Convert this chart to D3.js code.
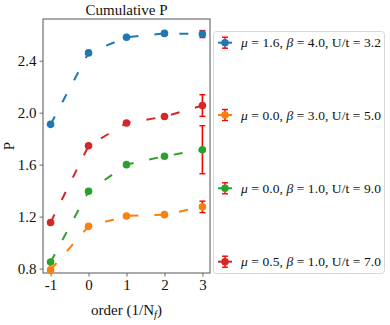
<!DOCTYPE html>
<meta charset="utf-8">
<script src="https://d3js.org/d3.v7.min.js"></script>
<style>
  body { margin: 0; background: #fff; }
  svg text { font-family: "Liberation Serif", "Times New Roman", serif; fill: #111; }
</style>
<div id="my_dataviz"></div>
<script>
  // data
  var orders = [-1, 0, 1, 2, 3];
  var xTicks = [-1, 0, 1, 2, 3];
  var yTicks = [0.8, 1.2, 1.6, 2.0, 2.4];

  var blueP   = [1.91, 2.46, 2.58, 2.61, 2.605];
  var orangeP = [0.79, 1.125, 1.205, 1.215, 1.275];
  var greenP  = [0.85, 1.395, 1.60, 1.665, 1.715];
  var redP    = [1.155, 1.745, 1.92, 1.97, 2.055];
  var lastErr = [0.027, 0.044, 0.185, 0.083];  // blue, orange, green, red at order 3

  var labels = [
    ["1.6", "4.0", "3.2"],
    ["0.0", "3.0", "5.0"],
    ["0.0", "1.0", "9.0"],
    ["0.5", "1.0", "7.0"]
  ];
  var colors = ["#1f77b4", "#ff7f0e", "#2ca02c", "#d62728"];
  var allSeries = [blueP, orangeP, greenP, redP];

  var W = 390, H = 325;
  var margin = {top: 19, left: 43, right: 180, bottom: 52};
  var serif = "'Liberation Serif', 'Times New Roman', serif";

  var svg = d3.select("#my_dataviz").append("svg")
    .attr("width", W).attr("height", H);

  var x = d3.scaleLinear().domain([-1.2, 3.2]).range([margin.left, W - margin.right]);
  var y = d3.scaleLinear().domain([0.766, 2.721]).range([H - margin.bottom, margin.top]);

  // axes
  var gx = svg.append("g")
    .attr("transform", "translate(0," + (H - margin.bottom) + ")")
    .call(d3.axisBottom(x).tickValues(xTicks).tickSize(3.5).tickPadding(3)
      .tickFormat(function(d) { return d < 0 ? "-" + Math.abs(d) : d; }));
  var gy = svg.append("g")
    .attr("transform", "translate(" + margin.left + ",0)")
    .call(d3.axisLeft(y).tickValues(yTicks).tickSize(3.5).tickPadding(3)
      .tickFormat(d3.format(".1f")));
  [gx, gy].forEach(function(g) {
    g.attr("font-family", serif).attr("font-size", 15);
    g.select(".domain").remove();
    g.selectAll("line").attr("stroke", "#444").attr("stroke-width", 0.8);
    g.selectAll("text").attr("fill", "#111");
  });

  // frame
  svg.append("rect")
    .attr("x", margin.left).attr("y", margin.top)
    .attr("width", W - margin.right - margin.left)
    .attr("height", H - margin.bottom - margin.top)
    .attr("fill", "none").attr("stroke", "#555").attr("stroke-width", 1);

  // series
  var line = d3.line()
    .x(function(d, i) { return x(orders[i]); })
    .y(function(d) { return y(d); });

  allSeries.forEach(function(s, k) {
    var g = svg.append("g");
    g.append("path")
      .attr("d", line(s))
      .attr("fill", "none")
      .attr("stroke", colors[k])
      .attr("stroke-width", 2)
      .attr("stroke-dasharray", "9,16");
    // error bar on the last point
    var xe = x(orders[4]), v = s[4], e = lastErr[k];
    g.append("line")
      .attr("x1", xe).attr("x2", xe)
      .attr("y1", y(v - e)).attr("y2", y(v + e))
      .attr("stroke", "#ff0000").attr("stroke-width", 1.6);
    [v - e, v + e].forEach(function(c) {
      g.append("line")
        .attr("x1", xe - 3).attr("x2", xe + 3)
        .attr("y1", y(c)).attr("y2", y(c))
        .attr("stroke", "#ff0000").attr("stroke-width", 1.4);
    });
    g.selectAll("circle").data(s).enter().append("circle")
      .attr("cx", function(d, i) { return x(orders[i]); })
      .attr("cy", function(d) { return y(d); })
      .attr("r", 3.8)
      .attr("fill", colors[k]);
  });

  // title and axis labels
  svg.append("text")
    .attr("x", (margin.left + W - margin.right) / 2).attr("y", 15)
    .attr("text-anchor", "middle").attr("font-size", 15)
    .text("Cumulative P");

  var xl = svg.append("text")
    .attr("x", (margin.left + W - margin.right) / 2).attr("y", 315)
    .attr("text-anchor", "middle").attr("font-size", 15);
  xl.append("tspan").text("order (1/N");
  xl.append("tspan").attr("font-style", "italic").attr("dy", 3).attr("font-size", 10.5).text("f");
  xl.append("tspan").attr("dy", -3).text(")");

  svg.append("text")
    .attr("transform", "translate(14," + ((margin.top + H - margin.bottom) / 2) + ") rotate(-90)")
    .attr("text-anchor", "middle").attr("font-size", 15)
    .text("P");

  // legend
  var leg = svg.append("g");
  leg.append("rect")
    .attr("x", 213.5).attr("y", 31.5).attr("width", 171).attr("height", 242)
    .attr("rx", 3).attr("fill", "#fff").attr("stroke", "#d8d8d8").attr("stroke-width", 1);

  var legY = [42.7, 115, 188.3, 261.7];
  labels.forEach(function(lb, k) {
    var gy0 = legY[k];
    leg.append("line").attr("x1", 218).attr("x2", 232).attr("y1", gy0).attr("y2", gy0)
      .attr("stroke", colors[k]).attr("stroke-width", 2);
    leg.append("line").attr("x1", 225).attr("x2", 225).attr("y1", gy0 - 5.5).attr("y2", gy0 + 5.5)
      .attr("stroke", "#ff0000").attr("stroke-width", 1.4);
    [gy0 - 5.5, gy0 + 5.5].forEach(function(c) {
      leg.append("line").attr("x1", 222).attr("x2", 228).attr("y1", c).attr("y2", c)
        .attr("stroke", "#ff0000").attr("stroke-width", 1.4);
    });
    leg.append("circle").attr("cx", 225).attr("cy", gy0).attr("r", 3.8).attr("fill", colors[k]);

    var t = leg.append("text").attr("x", 241).attr("y", gy0 + 4.5).attr("font-size", 13.5)
      .attr("textLength", 140).attr("lengthAdjust", "spacing");
    t.append("tspan").attr("font-style", "italic").text("\u03bc");
    t.append("tspan").text(" = " + lb[0] + ", ");
    t.append("tspan").attr("font-style", "italic").text("\u03b2");
    t.append("tspan").text(" = " + lb[1] + ", U/t = " + lb[2]);
  });
</script>
